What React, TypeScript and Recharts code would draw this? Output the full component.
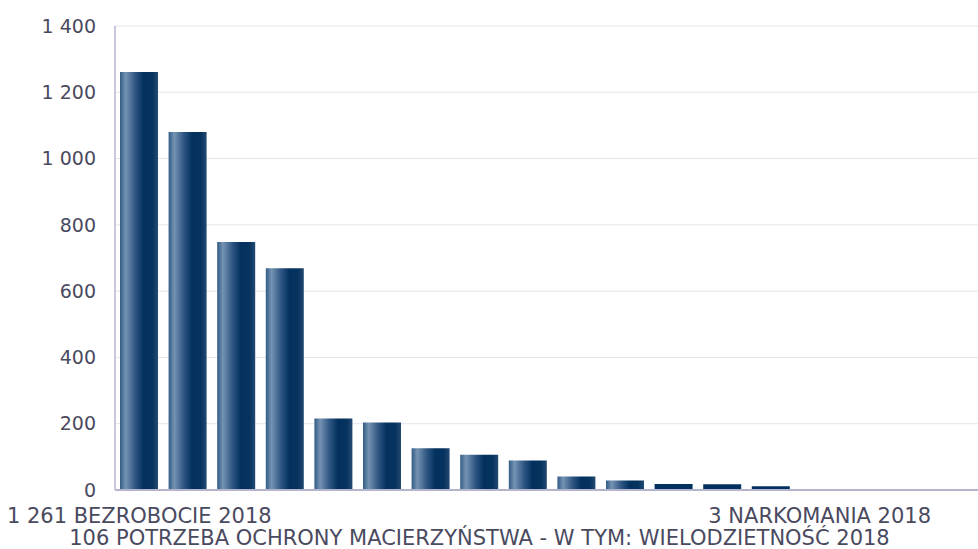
import { Bar, BarChart, CartesianGrid, Cell, XAxis, YAxis } from 'recharts'

const reasons = [
  'BEZROBOCIE',
  'UBÓSTWO',
  'DŁUGOTRWAŁA LUB CIĘŻKA CHOROBA',
  'NIEPEŁNOSPRAWNOŚĆ',
  'BEZRADNOŚĆ W SPRAWACH OPIEKUŃCZO-WYCHOWAWCZYCH',
  'ALKOHOLIZM',
  'POTRZEBA OCHRONY MACIERZYŃSTWA',
  'POTRZEBA OCHRONY MACIERZYŃSTWA - W TYM: WIELODZIETNOŚĆ',
  'PRZEMOC W RODZINIE',
  'BEZDOMNOŚĆ',
  'TRUDNOŚCI W PRZYSTOSOWANIU DO ŻYCIA PO ZWOLNIENIU Z ZAKŁADU KARNEGO',
  'SIEROCTWO',
  'ZDARZENIE LOSOWE',
  'SYTUACJA KRYZYSOWA',
  'NARKOMANIA',
]
const counts = [1261, 1080, 748, 669, 216, 204, 126, 106, 89, 41, 29, 18, 17, 11, 3]
const year = 2018
const yTicks = [0, 200, 400, 600, 800, 1000, 1200, 1400]

const data = reasons.map((r, i) => ({ name: r, value: counts[i] }))

const TEXT = '#4a4a5f'
const FONT = "'DejaVu Sans', sans-serif"

const fmt = (v: number) => v.toLocaleString('en-US').replace(/,/g, ' ')

function CategoryTick(props: any) {
  const { x, y, payload } = props
  const i = payload.index
  if (i % 7 !== 0) return null
  const row = (i / 7) % 2
  const d = data[i]
  return (
    <text
      x={x}
      y={y + 25 + row * 22}
      textAnchor='middle'
      fill={TEXT}
      fontSize={21}
      fontFamily={FONT}
    >
      {`${fmt(d.value)} ${d.name} ${year}`}
    </text>
  )
}

export default function App() {
  return (
    <div
      style={{
        position: 'absolute',
        left: 0,
        top: 0,
        width: 978,
        height: 549,
        overflow: 'hidden',
        background: '#fff',
      }}
    >
      <BarChart
        width={990}
        height={549}
        data={data}
        margin={{ top: 26, right: 0, bottom: 0, left: 0 }}
        barSize={38}
      >
        <defs>
          <linearGradient id='barGrad' x1='0' y1='0' x2='1' y2='0'>
            <stop offset='0%' stopColor='#325b86' />
            <stop offset='15%' stopColor='#7593b2' />
            <stop offset='40%' stopColor='#2f5683' />
            <stop offset='62%' stopColor='#03315f' />
            <stop offset='85%' stopColor='#06335f' />
            <stop offset='100%' stopColor='#244a72' />
          </linearGradient>
        </defs>
        <CartesianGrid vertical={false} stroke='#e4e4ee' />
        <XAxis
          dataKey='name'
          interval={0}
          tick={<CategoryTick />}
          tickLine={false}
          axisLine={{ stroke: '#b4b4cc', strokeWidth: 2 }}
          padding={{ left: 0, right: 146 }}
          height={59}
        />
        <YAxis
          width={115}
          domain={[0, 1400]}
          ticks={yTicks}
          tickFormatter={fmt}
          tickLine={false}
          tickSize={0}
          tickMargin={19}
          axisLine={{ stroke: '#c8c8dc', strokeWidth: 2 }}
          tick={{ fill: TEXT, fontSize: 19, fontFamily: FONT }}
        />
        <Bar dataKey='value' isAnimationActive={false}>
          {data.map((d, i) => (
            <Cell key={i} fill={d.value < 25 ? '#03315f' : 'url(#barGrad)'} />
          ))}
        </Bar>
      </BarChart>
    </div>
  )
}
